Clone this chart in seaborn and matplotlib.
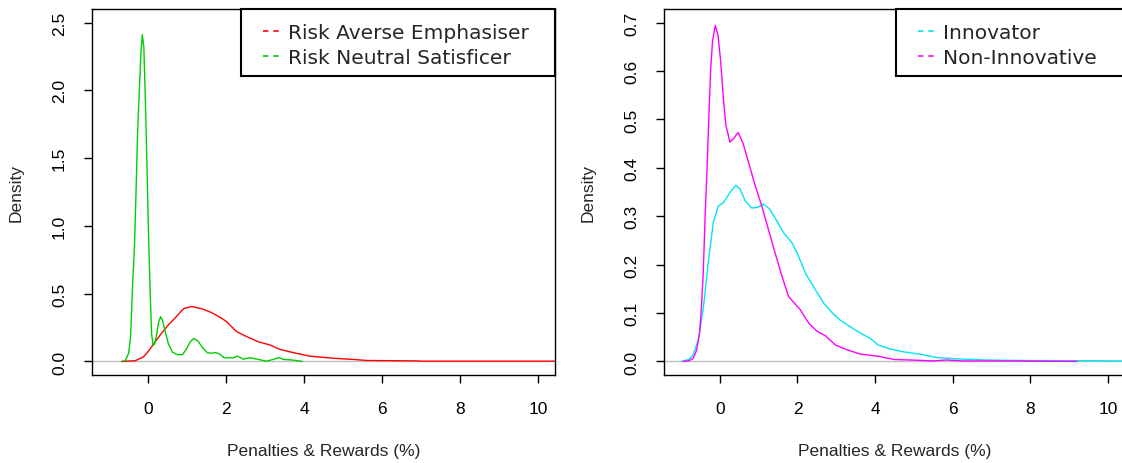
import numpy as np
import pandas as pd
import matplotlib
matplotlib.use("Agg")
import matplotlib.pyplot as plt
from matplotlib.lines import Line2D
from matplotlib.patches import Rectangle
from matplotlib.transforms import blended_transform_factory
import seaborn as sns

# ---------------- data ----------------
rae_x = [-0.68, -0.33, -0.12, 0.01, 0.18, 0.35, 0.52, 0.69, 0.91, 1.12, 1.37, 1.63,
         1.88, 2.01, 2.27, 2.53, 2.83, 3.13, 3.38, 3.64, 3.90, 4.15, 4.50, 4.84,
         5.26, 5.61, 6.46, 6.90, 7.00, 10.6]
rae_y = [0.0, 0.005, 0.034, 0.076, 0.145, 0.21, 0.27, 0.32, 0.39, 0.405, 0.39, 0.36,
         0.32, 0.294, 0.22, 0.183, 0.145, 0.121, 0.089, 0.071, 0.054, 0.039, 0.030, 0.022,
         0.015, 0.007, 0.005, 0.004, 0.002, 0.002]

rns_x = [-0.65, -0.58, -0.50, -0.45, -0.40, -0.35, -0.31, -0.27, -0.22, -0.18, -0.15,
         -0.11, -0.07, -0.03, 0.01, 0.05, 0.09, 0.13, 0.17, 0.22, 0.27, 0.32, 0.37,
         0.44, 0.52, 0.62, 0.75, 0.88, 0.98, 1.08, 1.17, 1.28, 1.40, 1.52, 1.63, 1.73,
         1.83, 1.95, 2.19, 2.29, 2.44, 2.62, 2.83, 3.04, 3.21, 3.35, 3.47, 3.73, 3.95]
rns_y = [0.0, 0.01, 0.06, 0.18, 0.55, 0.85, 1.25, 1.69, 2.04, 2.30, 2.41,
         2.32, 1.92, 1.45, 0.95, 0.53, 0.20, 0.12, 0.13, 0.20, 0.29, 0.33, 0.30,
         0.22, 0.13, 0.07, 0.05, 0.05, 0.09, 0.145, 0.17, 0.15, 0.10, 0.065, 0.06, 0.066,
         0.055, 0.027, 0.027, 0.04, 0.017, 0.027, 0.015, 0.002, 0.015, 0.028, 0.015, 0.01, 0.0]

inn_x = [-0.99, -0.80, -0.69, -0.56, -0.43, -0.30, -0.17, -0.04, 0.09, 0.26, 0.41, 0.52,
         0.65, 0.82, 0.96, 1.12, 1.28, 1.47, 1.64, 1.86, 2.03, 2.20, 2.46, 2.68, 2.90,
         3.09, 3.35, 3.61, 3.87, 4.08, 4.38, 4.72, 5.15, 5.59, 6.19, 6.87, 7.73, 10.6]
inn_y = [0.0, 0.004, 0.013, 0.044, 0.107, 0.204, 0.287, 0.321, 0.328, 0.349, 0.364, 0.356,
         0.332, 0.317, 0.318, 0.325, 0.315, 0.29, 0.266, 0.245, 0.217, 0.183, 0.148, 0.12, 0.10,
         0.086, 0.072, 0.059, 0.048, 0.034, 0.026, 0.02, 0.015, 0.008, 0.005, 0.003, 0.002, 0.001]

non_x = [-0.95, -0.78, -0.69, -0.60, -0.52, -0.47, -0.43, -0.38, -0.33, -0.29, -0.24,
         -0.19, -0.12, -0.05, 0.02, 0.09, 0.155, 0.26, 0.36, 0.47, 0.60, 0.76, 0.91,
         1.08, 1.25, 1.42, 1.60, 1.77, 2.07, 2.29, 2.51, 2.72, 2.98, 3.28, 3.63, 4.06,
         4.49, 4.92, 5.50, 5.84, 6.27, 7.50, 9.20]
non_y = [0.0, 0.002, 0.006, 0.023, 0.06, 0.12, 0.18, 0.30, 0.40, 0.49, 0.60,
         0.661, 0.694, 0.675, 0.62, 0.543, 0.488, 0.453, 0.461, 0.473, 0.45, 0.405, 0.363,
         0.321, 0.273, 0.225, 0.176, 0.134, 0.107, 0.079, 0.062, 0.053, 0.034, 0.024, 0.015, 0.011,
         0.004, 0.003, 0.001, 0.003, 0.001, 0.001, 0.0]

left_names = ["Risk Averse Emphasiser", "Risk Neutral Satisficer"]
right_names = ["Innovator", "Non-Innovative"]
left_colors = ["#FF0000", "#00CD00"]
right_colors = ["#00E5EE", "#FF00FF"]
x_ticks = [0, 2, 4, 6, 8, 10]
left_yticks = [0.0, 0.5, 1.0, 1.5, 2.0, 2.5]
right_yticks = [0.0, 0.1, 0.2, 0.3, 0.4, 0.5, 0.6, 0.7]
x_label = "Penalties & Rewards (%)"
y_label = "Density"

df_left = pd.concat([
    pd.DataFrame({"x": rae_x, "y": rae_y, "series": left_names[0]}),
    pd.DataFrame({"x": rns_x, "y": rns_y, "series": left_names[1]}),
], ignore_index=True)
df_right = pd.concat([
    pd.DataFrame({"x": inn_x, "y": inn_y, "series": right_names[0]}),
    pd.DataFrame({"x": non_x, "y": non_y, "series": right_names[1]}),
], ignore_index=True)

# ---------------- style ----------------
sns.set_style("ticks")
plt.rcParams["font.family"] = ["Liberation Sans", "DejaVu Sans"]

W, H = 1122, 464
fig = plt.figure(figsize=(W / 100, H / 100), dpi=100)

def px_axes(x0, x1, y0, y1):
    return fig.add_axes([x0 / W, 1 - y1 / H, (x1 - x0) / W, (y1 - y0) / H])

ax1 = px_axes(92, 555, 10, 376)
ax2 = px_axes(664, 1125, 10, 376)
AX_H = 366
TICK_PX = 8

def style_axes(ax, df, names, colors, yticks, ylim, legend_left_px, axes_left_px, axes_w):
    pal = dict(zip(names, colors))
    ax.axhline(0, color="#BEBEBE", lw=1.0, zorder=1)
    sns.lineplot(data=df, x="x", y="y", hue="series", palette=pal, sort=False,
                 estimator=None, legend=False, ax=ax, lw=1.0, zorder=3)
    ax.set_xlim(-1.44, 10.44)
    ax.set_ylim(*ylim)
    ax.set_xticks(x_ticks)
    ax.set_xticklabels([str(t) for t in x_ticks])
    ax.set_yticks(yticks)
    ax.set_yticklabels([f"{t:.1f}" for t in yticks], rotation=90, va="center")
    ax.tick_params(axis="both", which="major", length=0, labelsize=12.5,
                   labelcolor="black", bottom=True, left=True, top=False, right=False)
    ax.tick_params(axis="y", pad=18)
    ax.tick_params(axis="x", pad=19)
    # tick marks drawn as short outward lines at the tick positions
    tx = blended_transform_factory(ax.transData, ax.transAxes)
    for t in x_ticks:
        ax.add_line(Line2D([t, t], [0, -TICK_PX / AX_H], transform=tx, color="black",
                           lw=1.0, clip_on=False, solid_capstyle="butt"))
    ty = blended_transform_factory(ax.transAxes, ax.transData)
    for t in yticks:
        ax.add_line(Line2D([0, -TICK_PX / axes_w], [t, t], transform=ty, color="black",
                           lw=1.0, clip_on=False, solid_capstyle="butt"))
    for s in ax.spines.values():
        s.set_visible(True)
        s.set_color("black")
        s.set_linewidth(1.0)
    ax.set_xlabel(x_label, fontsize=12.5)
    ax.set_ylabel(y_label, fontsize=12.5)
    ax.xaxis.label.set_va("center")
    ax.yaxis.label.set_va("center")
    ax.xaxis.set_label_coords(0.5, (376 - 452) / AX_H)
    ax.yaxis.set_label_coords(-76 / axes_w, 0.5)

    # legend frame
    fx = (legend_left_px - axes_left_px) / axes_w
    fy = (376 - 77) / AX_H
    rect = Rectangle((fx, fy), 1 - fx, 1 - fy, transform=ax.transAxes, fill=True,
                     facecolor="white", edgecolor="black", lw=1.5, zorder=5, clip_on=False)
    ax.add_patch(rect)
    handles = [Line2D([0], [0], color=c, lw=1.2, linestyle=(0, (3.2, 3.0))) for c in colors]
    cx = (legend_left_px + 22 - axes_left_px) / axes_w
    cy = (376 - 46) / AX_H
    leg = ax.legend(handles, names, loc="center left", bbox_to_anchor=(cx, cy),
                    frameon=False, borderpad=0, borderaxespad=0, handlelength=0.8,
                    handletextpad=0.45, labelspacing=0.3,
                    prop={"family": "DejaVu Sans", "size": 14.5})
    leg.set_zorder(6)

style_axes(ax1, df_left, left_names, left_colors, left_yticks, (-0.1, 2.6), 241, 92, 463)
style_axes(ax2, df_right, right_names, right_colors, right_yticks, (-0.028, 0.728), 896, 664, 461)

fig.savefig("out.png", dpi=100)
